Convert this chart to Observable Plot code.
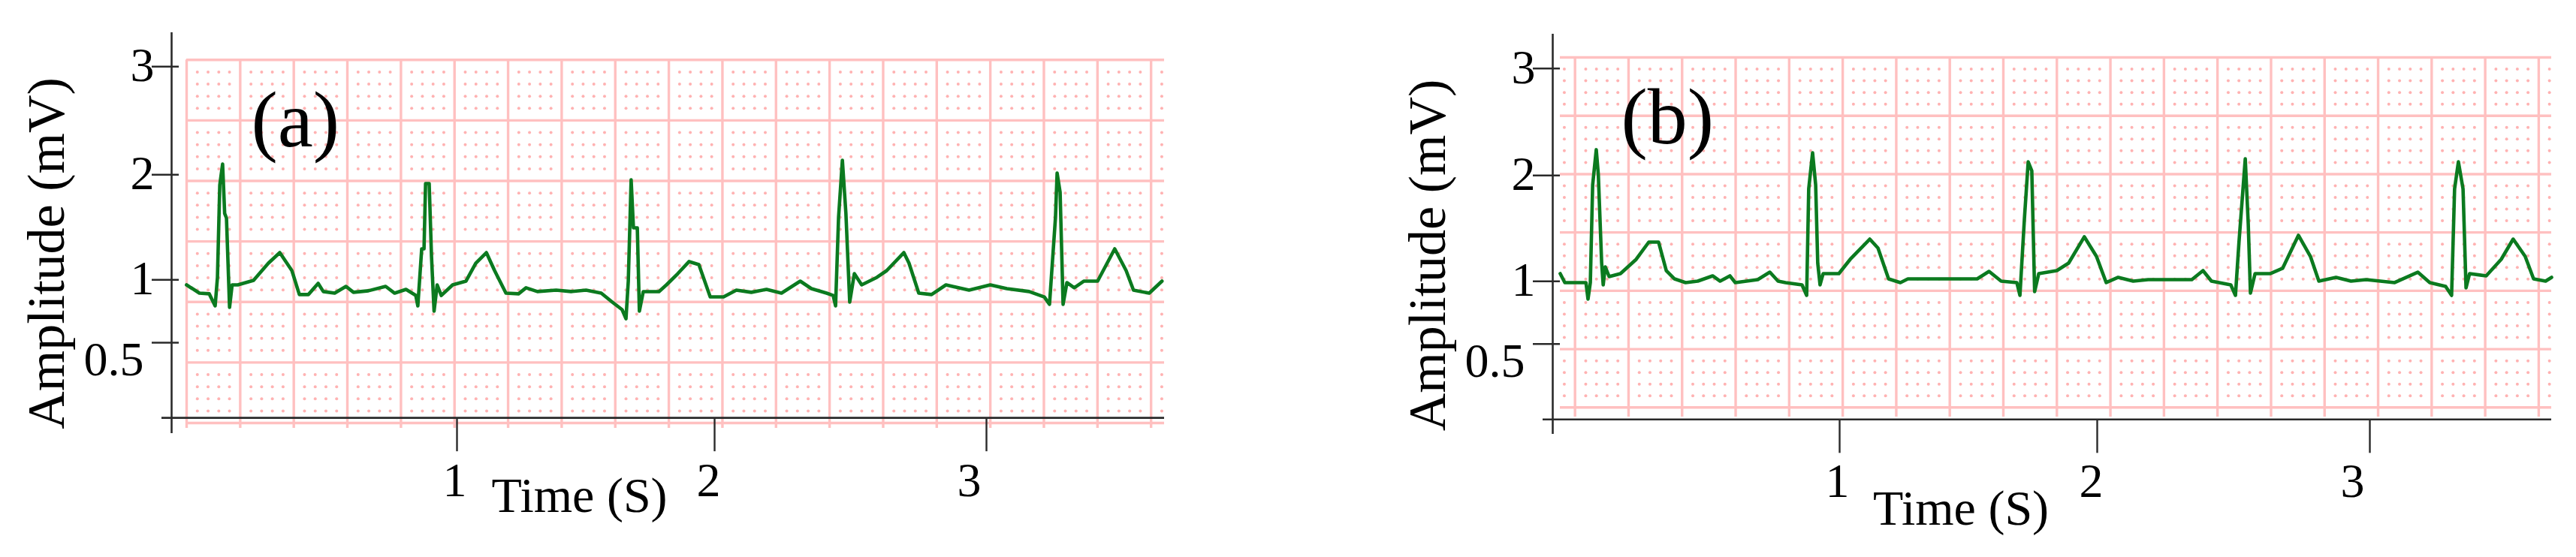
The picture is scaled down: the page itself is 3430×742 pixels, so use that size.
<!DOCTYPE html>
<html><head><meta charset="utf-8">
<script src="https://cdn.jsdelivr.net/npm/d3@7"></script>
<script src="https://cdn.jsdelivr.net/npm/@observablehq/plot@0.6"></script>
<style>
body{margin:0;background:#fff;}
#wrap{display:flex;width:3430px;height:742px;}
.panel{position:relative;width:1715px;height:742px;flex:none;}
.panel svg{position:absolute;left:0;top:0;}
</style></head><body><div id="wrap"></div>
<script>
// ---- data ----
const yTicks = [3, 2, 1, 0.5];
const xTicks = [1, 2, 3];
const panelNames = ["(a)", "(b)"];
const xTitle = "Time (S)";
const yTitle = "Amplitude (mV)";

const timeA = [-0.050,0.000,0.038,0.061,0.070,0.079,0.090,0.098,0.105,0.117,0.127,0.149,0.210,0.268,0.312,0.359,0.388,0.423,0.461,0.481,0.525,0.569,0.598,0.656,0.723,0.758,0.802,0.840,
  0.848,0.863,0.872,0.878,0.892,0.901,0.911,0.923,0.939,0.983,1.035,1.073,1.114,1.146,1.190,1.239,1.268,1.312,1.385,1.443,1.501,1.560,1.603,1.641,
  1.656,1.665,1.676,1.685,1.700,1.708,1.723,1.784,1.813,1.857,1.901,1.939,1.983,2.033,2.080,2.135,2.191,2.246,2.315,2.356,2.412,
  2.436,2.445,2.456,2.470,2.483,2.497,2.514,2.541,2.597,2.633,2.696,2.715,2.751,2.798,2.851,2.936,3.014,3.075,3.157,3.213,
  3.232,3.254,3.260,3.271,3.282,3.296,3.323,3.359,3.409,3.472,3.514,3.541,3.599,3.646];
const ampA = [0.960,0.894,0.889,0.793,1.024,1.902,2.099,1.631,1.588,0.781,0.960,0.960,0.996,1.159,1.259,1.088,0.883,0.883,0.972,0.907,0.894,0.948,0.901,0.913,0.948,0.894,0.924,0.876,
  0.793,1.295,1.295,1.916,1.916,1.224,0.751,0.960,0.876,0.960,0.990,1.159,1.259,1.088,0.894,0.889,0.937,0.907,0.918,0.907,0.918,0.894,0.823,0.763,
  0.691,0.990,1.952,1.495,1.495,0.751,0.906,0.906,0.960,1.059,1.174,1.145,0.864,0.864,0.918,0.901,0.924,0.894,0.990,0.930,0.894,
  0.876,0.793,1.595,2.134,1.631,0.823,1.059,0.960,1.024,1.088,1.259,1.159,0.894,0.883,0.960,0.918,0.960,0.930,0.907,0.864,
  0.805,1.595,2.016,1.834,0.805,0.978,0.937,0.990,0.990,1.295,1.088,0.918,0.894,0.990];

const timeB = [-0.085,-0.067,0.015,0.023,0.032,0.041,0.055,0.063,0.076,0.082,0.090,0.105,0.149,0.210,0.259,0.297,0.327,0.359,0.402,0.449,0.507,0.536,0.574,0.595,0.682,0.729,0.761,0.790,0.854,
  0.872,0.880,0.895,0.907,0.915,0.924,0.936,0.997,1.041,1.117,1.149,1.190,1.236,1.265,1.534,1.580,1.627,1.688,
  1.700,1.717,1.732,1.746,1.757,1.773,1.843,1.889,1.950,1.997,2.033,2.077,2.132,2.187,2.245,2.347,2.388,2.419,2.490,
  2.507,2.520,2.543,2.554,2.562,2.579,2.634,2.680,2.738,2.782,2.813,2.876,2.931,2.986,3.091,3.176,3.220,3.278,
  3.300,3.311,3.325,3.342,3.353,3.366,3.427,3.482,3.526,3.570,3.601,3.645,3.667];
const ampB = [1.073,0.990,0.990,0.858,0.990,1.910,2.241,2.009,1.172,0.972,1.137,1.045,1.073,1.208,1.371,1.371,1.101,1.023,0.990,1.002,1.052,1.002,1.052,0.990,1.016,1.087,1.002,0.990,0.972,
  0.888,1.874,2.212,1.910,1.172,0.972,1.073,1.073,1.208,1.399,1.314,1.023,0.990,1.023,1.023,1.094,1.002,0.990,
  0.888,1.577,2.128,2.044,0.918,1.073,1.101,1.172,1.421,1.236,0.990,1.038,1.002,1.016,1.016,1.016,1.101,1.002,0.972,
  0.888,1.371,2.156,1.541,0.906,1.073,1.073,1.123,1.435,1.236,1.002,1.038,1.002,1.016,0.990,1.087,0.990,0.960,
  0.888,1.874,2.128,1.874,0.948,1.073,1.052,1.208,1.399,1.236,1.023,1.002,1.038];

// ---- layout (scales, positions, styles) ----
const W = 1715, H = 742;
const layouts = [
  { xDomain: [-0.108, 1, 2, 3, 3.655], xRange: [228, 608, 951, 1313, 1550],
    yDomain: [-0.225, 0.5, 1, 2, 3, 3.315], yRange: [577, 456, 372.3, 232.3, 88.3, 43],
    xAxisAt: -0.1, nameDx: 106, nameDy: 151, yTitleDx: -166, yTitleDy: 27, xTitleDx: -118, xTitleDy: 104.7,
    grid: {left: 248, right: 1550, top: 79.3, bottom: 563, xDomain: [0, 18.25], ext: 7} },
  { xDomain: [-0.114, 1, 2, 3, 3.667], xRange: [352, 734, 1077, 1440, 1682],
    yDomain: [-0.221, 0.5, 1, 2, 3, 3.32], yRange: [578, 457.7, 374.3, 233.3, 90.7, 45],
    xAxisAt: -0.103, nameDx: 91, nameDy: 145, yTitleDx: -166, yTitleDy: 28, xTitleDx: -121.5, xTitleDy: 120,
    grid: {left: 362, right: 1682, top: 76, bottom: 542.3, xDomain: [-0.276, 18.24], ext: 12.7} }
];
const series = [[timeA, ampA], [timeB, ampB]];
const axisColor = "#2a2a2a";
const gridLine = "#ffc0c0";
const gridDot = "#ffb2b2";
const traceColor = "#0b7a1f";
const font = "'Liberation Serif', 'DejaVu Serif', serif";
const xLabelShift = [-3, -8, -23];

const wrap = document.getElementById("wrap");

layouts.forEach((L, p) => {
  const panel = document.createElement("div");
  panel.className = "panel";
  wrap.appendChild(panel);

  // ECG paper grid (in major-box units)
  const G = L.grid;
  const rows = 6;
  const colIdx = d3.range(Math.ceil(G.xDomain[0]), Math.floor(G.xDomain[1]) + 1);
  const dots = [];
  for (let i = Math.ceil(G.xDomain[0] * 5); i <= Math.floor(G.xDomain[1] * 5); i++) {
    if (i % 5 === 0) continue;
    for (let j = 1; j < rows * 5; j++) {
      if (j % 5 === 0) continue;
      dots.push({x: i / 5, y: j / 5});
    }
  }
  const gridPlot = Plot.plot({
    width: W, height: H,
    marginLeft: G.left, marginRight: W - G.right, marginTop: G.top, marginBottom: H - G.bottom,
    style: {background: "transparent"},
    x: {type: "linear", domain: G.xDomain, axis: null},
    y: {type: "linear", domain: [0, rows], axis: null},
    marks: [
      Plot.dot(dots, {x: "x", y: "y", r: 2, fill: gridDot, stroke: "none"}),
      Plot.ruleY(d3.range(rows + 1), {stroke: gridLine, strokeWidth: 3.4}),
      Plot.ruleX(colIdx, {stroke: gridLine, strokeWidth: 3.4, insetBottom: -G.ext})
    ]
  });
  panel.appendChild(gridPlot);

  // chart with axes and trace
  const yS = Plot.scale({y: {type: "linear", domain: L.yDomain, range: L.yRange}});
  const frameBottom = L.yRange[0];
  const axisDy = yS.apply(L.xAxisAt) - frameBottom;
  const [time, amp] = series[p];
  const pts = time.map((t, i) => ({t, v: amp[i]}));

  const chart = Plot.plot({
    width: W, height: H,
    marginLeft: L.xRange[0], marginRight: W - L.xRange[L.xRange.length - 1],
    marginTop: L.yRange[L.yRange.length - 1], marginBottom: H - L.yRange[0],
    style: {background: "transparent", fontFamily: font, color: "#000"},
    x: {type: "linear", domain: L.xDomain, range: L.xRange},
    y: {type: "linear", domain: L.yDomain, range: L.yRange},
    marks: [
      Plot.ruleX([L.xDomain[0]], {stroke: axisColor, strokeWidth: 2.6}),
      Plot.ruleY([L.xAxisAt], {stroke: axisColor, strokeWidth: 2.6, insetLeft: -13}),
      Plot.axisY(yTicks, {tickSize: 36, dx: 10, stroke: axisColor, strokeWidth: 2.4, tickFormat: () => "", label: null}),
      ...yTicks.map(v => Plot.text([v], {
        y: d => d, frameAnchor: "left", text: d => String(d), textAnchor: "end", lineAnchor: "middle",
        dx: v === 0.5 ? -37 : -23, dy: v === 0.5 ? 23 : -1, fontSize: 64, fill: "#000"
      })),
      Plot.axisX(xTicks, {tickSize: 45, dy: axisDy, stroke: axisColor, strokeWidth: 2.4, tickFormat: () => "", label: null}),
      ...xTicks.map((t, i) => Plot.text([t], {
        x: d => d, frameAnchor: "bottom", text: d => String(d), textAnchor: "middle", lineAnchor: "bottom",
        dx: xLabelShift[i], dy: 83, fontSize: 64, fill: "#000"
      })),
      Plot.text([xTitle], {frameAnchor: "bottom", text: d => d, textAnchor: "middle", lineAnchor: "bottom",
        dx: L.xTitleDx, dy: L.xTitleDy, fontSize: 66, fill: "#000"}),
      Plot.text([yTitle], {frameAnchor: "left", text: d => d, rotate: -90, textAnchor: "middle", lineAnchor: "middle",
        dx: L.yTitleDx, dy: L.yTitleDy, fontSize: 70, fill: "#000"}),
      Plot.text([panelNames[p]], {frameAnchor: "top-left", text: d => d, textAnchor: "start", lineAnchor: "bottom",
        dx: L.nameDx, dy: L.nameDy, fontSize: 106, fill: "#000"}),
      Plot.line(pts, {x: "t", y: "v", stroke: traceColor, strokeWidth: 4.6, strokeLinejoin: "round", strokeLinecap: "round"})
    ]
  });
  panel.appendChild(chart);
});
</script>
</body></html>
